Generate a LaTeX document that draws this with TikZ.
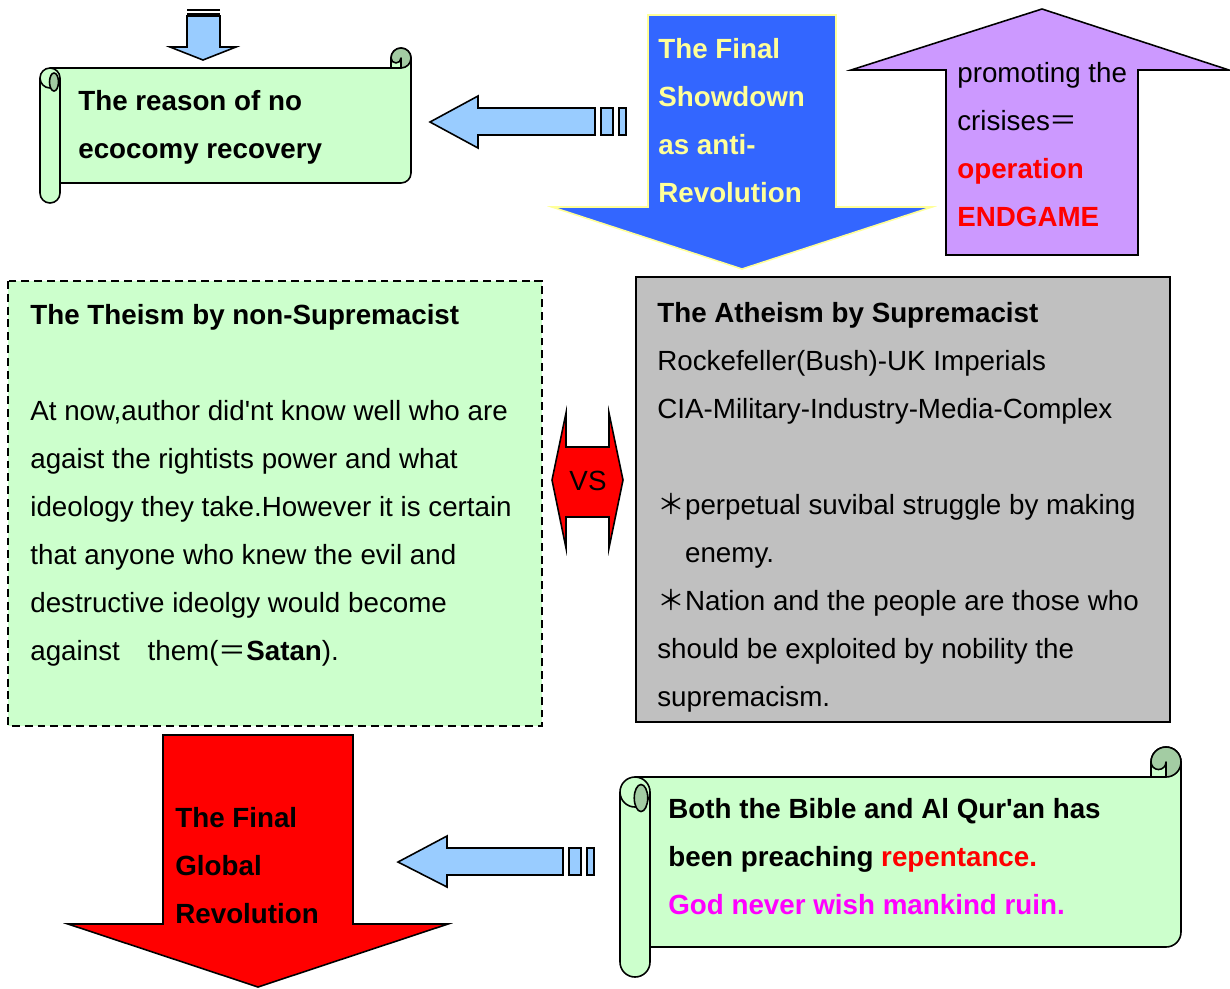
\documentclass[tikz,border=0pt]{standalone}
\usepackage{fontspec}
\setmainfont{Liberation Sans}
\newfontfamily\cjk{Noto Sans CJK JP}

\definecolor{paleGreen}{HTML}{CCFFCC}
\definecolor{curlGreen}{HTML}{A3CCA3}
\definecolor{skyBlue}{HTML}{99CCFF}
\definecolor{royalBlue}{HTML}{3366FF}
\definecolor{paleYellow}{HTML}{FFFF99}
\definecolor{lilac}{HTML}{CC99FF}
\definecolor{silver}{HTML}{C0C0C0}
\definecolor{fuchsia}{HTML}{FF00FF}

\newcommand{\bodyfont}{\fontsize{15.8}{27.3}\selectfont}

\tikzset{
	scrollbody/.style={draw, fill=paleGreen, line width=0.9pt, line join=round},
	scrollcurl/.style={draw, fill=curlGreen, line width=0.9pt},
	blockarrow/.style={draw, line width=0.9pt},
	% placed at the baseline of the last line
	txt/.style={inner sep=0pt, anchor=base west, align=left, font=\bodyfont},
}

% horizontal scroll: left, top, right, bottom, tube width
\newcommand{\hscroll}[5]{%
	\filldraw[scrollbody] ({#1+#5/2},#2) -- ({#3-#5},#2) -- ({#3-#5},{#2-#5/2})
		arc[start angle=180, end angle=360, radius={#5/2}] -- (#3,{#4-#5/2})
		arc[start angle=0, end angle=90, radius={#5/2}] -- ({#1+#5/2},#4) -- cycle;
	\filldraw[scrollcurl] ({#3-#5/2},{#2-#5/2}) circle ({#5/2});
	\filldraw[scrollbody] ({#3-#5},{#2-#5/2}) arc[start angle=180, end angle=0, radius={#5/4}]
		-- ({#3-#5/2},#2) -- ({#3-#5},#2) -- cycle;
	\filldraw[scrollbody] (#1,{#4+#5/2}) -- (#1,{#2+#5/2})
		arc[start angle=180, end angle=360, radius={#5/2}] -- ({#1+#5},{#4+#5/2})
		arc[start angle=0, end angle=180, radius={#5/2}] -- cycle;
	\draw[line width=0.9pt] (#1,{#2+#5/2}) arc[start angle=180, end angle=0, radius={#5/2}];
	\filldraw[scrollcurl] ({#1+0.7*#5},{#2+0.7*#5}) ellipse[x radius={0.225*#5}, y radius={0.45*#5}];
}

\begin{document}
\begin{tikzpicture}[x=0.02cm, y=-0.02cm]
	\useasboundingbox (0,0) rectangle (1230,988);

	% Small arrow into the first scroll
	\fill (187,9) rectangle (220,11);
	\fill (187,12.5) rectangle (220,14.5);
	\filldraw[blockarrow, fill=skyBlue] (187,16) -- (220,16) -- (220,47) -- (236,47) -- (203,60) -- (170,47) -- (187,47) -- cycle;

	% Scroll: reason
	\hscroll{40}{68}{411}{183}{20}
	\node[txt, font=\bodyfont\bfseries] (reason) at (78,158) {The reason of no\\ecocomy recovery};

	% Striped arrow (top)
	\filldraw[blockarrow, fill=skyBlue] (595,108) -- (595,135) -- (478,135) -- (478,148) -- (430,122) -- (478,96) -- (478,108) -- cycle;
	\filldraw[blockarrow, fill=skyBlue] (601,108) rectangle (613,135);
	\filldraw[blockarrow, fill=skyBlue] (619,108) rectangle (626,135);

	% Showdown arrow
	\filldraw[blockarrow, draw=paleYellow, fill=royalBlue] (648,15) -- (836,15) -- (836,207) -- (932,207) -- (742,269) -- (552,207) -- (648,207) -- cycle;
	\node[txt, text=paleYellow, font=\bodyfont\bfseries] (showdown) at (658,202) {The Final\\Showdown\\as anti-\\Revolution};

	% Crisis arrow
	\filldraw[blockarrow, fill=lilac] (946,255) -- (946,70) -- (851,70) -- (1042,9) -- (1229,70) -- (1138,70) -- (1138,255) -- cycle;
	\node[txt] (crisis) at (957,226) {promoting the\\crisises{\cjk ＝}\\\textcolor{red}{\textbf{operation}}\\\textcolor{red}{\textbf{ENDGAME}}};

	% Theism box
	\filldraw[fill=paleGreen, line width=1.4pt, dash pattern=on 4.5pt off 2.8pt] (8,281) rectangle (542,726);
	\node[txt] (theism) at (30,660) {\textbf{The Theism by non-Supremacist}\\[27.3pt]
		At now,author did\textquotesingle nt know well who are\\
		agaist the rightists power and what\\
		ideology they take.However it is certain\\
		that anyone who knew the evil and\\
		destructive ideolgy would become\\
		against{\cjk 　}them({\cjk ＝}\textbf{Satan}).};

	% Atheism box
	\filldraw[fill=silver, line width=0.9pt] (636,277) rectangle (1170,722);
	\node[txt] (atheism) at (657,706) {\textbf{The Atheism by Supremacist}\\
		Rockefeller(Bush)-UK Imperials\\
		CIA-Military-Industry-Media-Complex\\[27.3pt]
		{\cjk ＊}perpetual suvibal struggle by making\\
		\phantom{\cjk ＊}enemy.\\
		{\cjk ＊}Nation and the people are those who\\
		should be exploited by nobility the\\
		supremacism.};

	% VS
	\filldraw[blockarrow, fill=red] (566,413) -- (566,447) -- (609,447) -- (609,413) -- (623,480) -- (609,548) -- (609,517) -- (566,517) -- (566,548) -- (552,480) -- cycle;
	\node[font=\bodyfont, inner sep=0pt] (vs) at (588,481) {VS};

	% Revolution arrow
	\filldraw[blockarrow, fill=red] (163,735) -- (353,735) -- (353,924) -- (448,924) -- (258,987) -- (68,924) -- (163,924) -- cycle;
	\node[txt, font=\bodyfont\bfseries] (revolution) at (175,923) {The Final\\Global\\Revolution};

	% Striped arrow (bottom)
	\filldraw[blockarrow, fill=skyBlue] (563,848) -- (563,875) -- (447,875) -- (447,887) -- (398,862) -- (447,836) -- (447,848) -- cycle;
	\filldraw[blockarrow, fill=skyBlue] (569,848) rectangle (581,875);
	\filldraw[blockarrow, fill=skyBlue] (587,848) rectangle (594,875);

	% Scroll: scriptures
	\hscroll{620}{777}{1181}{947}{30}
	\node[txt, font=\bodyfont\bfseries] (scripture) at (668,914) {Both the Bible and Al Qur\textquotesingle an has\\been preaching \textcolor{red}{repentance.}\\\textcolor{fuchsia}{God never wish mankind ruin.}};
\end{tikzpicture}
\end{document}
